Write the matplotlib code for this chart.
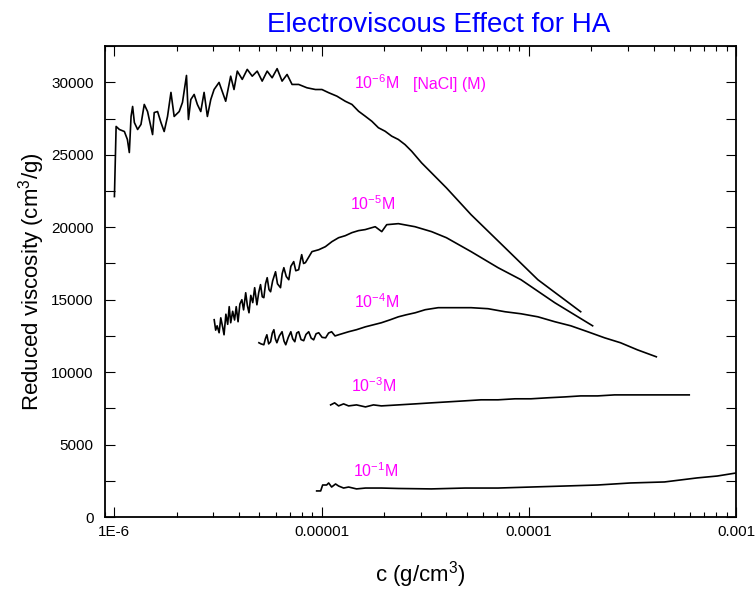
import numpy as np
from matplotlib import pyplot as plt
from matplotlib.ticker import LogLocator, MultipleLocator, FuncFormatter, NullFormatter

# 字体设置
plt.rcParams['font.family'] = ['Liberation Sans', 'DejaVu Sans']
plt.rcParams['mathtext.default'] = 'regular'

# ---------------- 数据 (c 单位为 1E-6 g/cm3) ----------------
# 10^-6 M NaCl
c_1e6 = [1.00, 1.019, 1.057, 1.117, 1.155, 1.180, 1.203, 1.224, 1.248, 1.294,
         1.343, 1.393, 1.445, 1.473, 1.528, 1.556, 1.615, 1.677, 1.738, 1.804,
         1.874, 1.942, 2.054, 2.130, 2.227, 2.276, 2.337, 2.425, 2.513, 2.610,
         2.708, 2.809, 2.917, 3.026, 3.198, 3.443, 3.639, 3.776, 3.916, 4.138,
         4.374, 4.623, 4.886, 5.164, 5.458, 5.768, 6.097, 6.442, 6.81, 7.197,
         7.745, 8.49, 9.33, 10.03, 10.81, 11.85, 13.0, 14.0, 15.07, 16.22,
         17.46, 18.79, 20.24, 21.78, 23.45, 25.24, 27.18, 30.34, 33.88, 40.0,
         52.6, 76.7, 110.5, 177.8]
v_1e6 = [22120, 26960, 26750, 26610, 26060, 25160, 27650, 28340, 27230, 26750,
         27100, 28480, 27990, 27440, 26400, 27920, 27990, 27230, 26610, 27650,
         29310, 27650, 27990, 28620, 30480, 27440, 28820, 29170, 28480, 27990,
         29310, 27650, 28820, 29510, 30000, 28700, 30430, 29510, 30780, 30210,
         30900, 30430, 30780, 30090, 30780, 30320, 30950, 30090, 30550, 29860,
         29860, 29630, 29510, 29510, 29290, 29050, 28700, 28480, 28010, 27670,
         27320, 26870, 26630, 26290, 26060, 25710, 25250, 24450, 23760, 22720,
         20870, 18590, 16380, 14170]

# 10^-5 M NaCl
c_1e5 = [3.03, 3.08, 3.13, 3.20, 3.26, 3.33, 3.38, 3.45, 3.52, 3.58,
         3.64, 3.72, 3.80, 3.87, 3.95, 4.03, 4.12, 4.20, 4.30, 4.38,
         4.46, 4.55, 4.65, 4.75, 4.87, 4.97, 5.07, 5.17, 5.26, 5.36,
         5.46, 5.57, 5.67, 5.80, 5.99, 6.12, 6.33, 6.45, 6.57, 6.75,
         6.94, 7.10, 7.33, 7.50, 7.745, 7.90, 8.01, 8.18, 8.35, 8.98,
         9.68, 10.42, 11.21, 12.07, 13.0, 14.0, 15.07, 16.22, 18.13, 19.5,
         20.6, 23.45, 28.2, 33.9, 40.0, 52.6, 71.0, 91.6, 133.4, 203]
v_1e5 = [13620, 12900, 13200, 12720, 13750, 13100, 12580, 14000, 13300, 14520,
         13410, 14200, 13600, 14520, 13480, 14700, 15000, 14300, 15480, 14600,
         14100, 15300, 14800, 15830, 14650, 15500, 16040, 15200, 15140, 16100,
         16520, 15700, 15550, 16300, 16930, 16100, 15830, 16800, 17210, 16600,
         16380, 17300, 17630, 17000, 17070, 17700, 18110, 17500, 17560, 18320,
         18450, 18660, 19010, 19280, 19420, 19630, 19770, 19840, 20040, 19700,
         20180, 20250, 20040, 19700, 19280, 18320, 17210, 16380, 14790, 13200]

# 10^-4 M NaCl
c_1e4 = [4.98, 5.10, 5.26, 5.35, 5.44, 5.55, 5.67, 5.78, 5.88, 5.98,
         6.08, 6.25, 6.44, 6.58, 6.71, 6.90, 7.10, 7.25, 7.42, 7.58,
         7.745, 7.95, 8.19, 8.40, 8.66, 8.90, 9.15, 9.40, 9.68, 10.05,
         10.45, 10.8, 11.17, 11.6, 12.07, 13.49, 14.73, 16.27, 17.78, 19.42,
         21.47, 23.45, 25.6, 28.3, 31.6, 36.5, 40.8, 52.6, 63.5, 76.7,
         91.6, 110.5, 133.4, 159.2, 192.2, 231.9, 276.7, 334, 412]
v_1e4 = [12030, 11950, 11890, 12300, 12580, 11950, 12100, 12700, 12930, 12300,
         12030, 12500, 12790, 12150, 11890, 12400, 12790, 12300, 12100, 12700,
         12790, 12250, 12170, 12600, 12790, 12350, 12230, 12650, 12720, 12400,
         12370, 12700, 12790, 12500, 12580, 12790, 12930, 13130, 13270, 13410,
         13620, 13820, 13960, 14100, 14310, 14450, 14450, 14450, 14380, 14170,
         14030, 13820, 13480, 13200, 12790, 12370, 12030, 11540, 11060]

# 10^-3 M NaCl
c_1e3 = [11.05, 11.55, 12.07, 12.76, 13.49, 14.73, 16.27, 17.78, 19.42, 23.45,
         28.3, 33.8, 40.8, 49.2, 58.8, 71.0, 85.7, 102.3, 123.4, 149,
         177.8, 214.7, 259, 309, 373, 451, 520, 594]
v_1e3 = [7740, 7880, 7670, 7810, 7670, 7740, 7600, 7740, 7670, 7740,
         7810, 7880, 7950, 8020, 8090, 8090, 8160, 8160, 8230, 8290,
         8360, 8360, 8430, 8430, 8430, 8430, 8430, 8430]

# 10^-1 M NaCl
c_1e1 = [9.46, 9.89, 10.11, 10.57, 10.81, 11.17, 11.67, 12.07, 12.76, 13.49,
         14.73, 16.27, 19.42, 23.45, 33.8, 49.2, 71.0, 102.3, 149, 214.7,
         309, 451, 649, 811, 1000]
v_1e1 = [1800, 1800, 2210, 2210, 2350, 2070, 2280, 2140, 2000, 2070,
         1940, 2000, 2000, 1970, 1940, 2000, 2000, 2070, 2140, 2210,
         2350, 2420, 2700, 2830, 3040]

series = [(c_1e6, v_1e6), (c_1e5, v_1e5), (c_1e4, v_1e4), (c_1e3, v_1e3), (c_1e1, v_1e1)]

# 曲线标注
label_text = ['10$^{-6}$M', '10$^{-5}$M', '10$^{-4}$M', '10$^{-3}$M', '10$^{-1}$M']
label_c = [14.4, 13.74, 14.25, 13.9, 14.1]
label_v = [29560, 21220, 14430, 8660, 2790]

x_tick_labels = {-6: '1E-6', -5: '0.00001', -4: '0.0001', -3: '0.001'}

# ---------------- 作图 ----------------
fig = plt.figure(figsize=(7.55, 5.9), dpi=100)
ax = fig.add_axes([0.139, 0.1237, 0.836, 0.798])

for c, v in series:
    ax.plot(np.array(c) * 1e-6, v, color='black', lw=1.2)

for t, c, v in zip(label_text, label_c, label_v):
    ax.text(c * 1e-6, v, t, color='#FF00FF', fontsize=11.5, ha='left', va='baseline')
ax.text(27.7e-6, label_v[0], '[NaCl] (M)', color='#FF00FF', fontsize=11.5, ha='left', va='baseline')

ax.set_xscale('log')
ax.set_xlim(9e-7, 1e-3)
ax.set_ylim(0, 32500)

ax.xaxis.set_major_locator(LogLocator(base=10))
ax.xaxis.set_minor_locator(LogLocator(base=10, subs=np.arange(2, 10)))
ax.xaxis.set_major_formatter(FuncFormatter(lambda x, p: x_tick_labels.get(int(round(np.log10(x))), '')))
ax.xaxis.set_minor_formatter(NullFormatter())
ax.yaxis.set_major_locator(MultipleLocator(2500))
ax.yaxis.set_major_formatter(FuncFormatter(lambda y, p: '%d' % y if y % 5000 == 0 else ''))

ax.tick_params(which='both', direction='in', top=True, right=True, labelsize=11, width=0.8)
ax.tick_params(which='major', length=7)
ax.tick_params(which='minor', length=3.5)
ax.tick_params(axis='y', pad=8)
ax.tick_params(axis='x', pad=6)
for s in ax.spines.values():
    s.set_linewidth(1.3)

ax.set_xlabel('c (g/cm$^3$)', fontsize=16, labelpad=14)
ax.set_ylabel('Reduced viscosity (cm$^3$/g)', fontsize=16, labelpad=3)
fig.text(0.5815, 0.946, 'Electroviscous Effect for HA', color='#0000FF', fontsize=20,
         ha='center', va='baseline')

plt.savefig('out.png', dpi=100)
